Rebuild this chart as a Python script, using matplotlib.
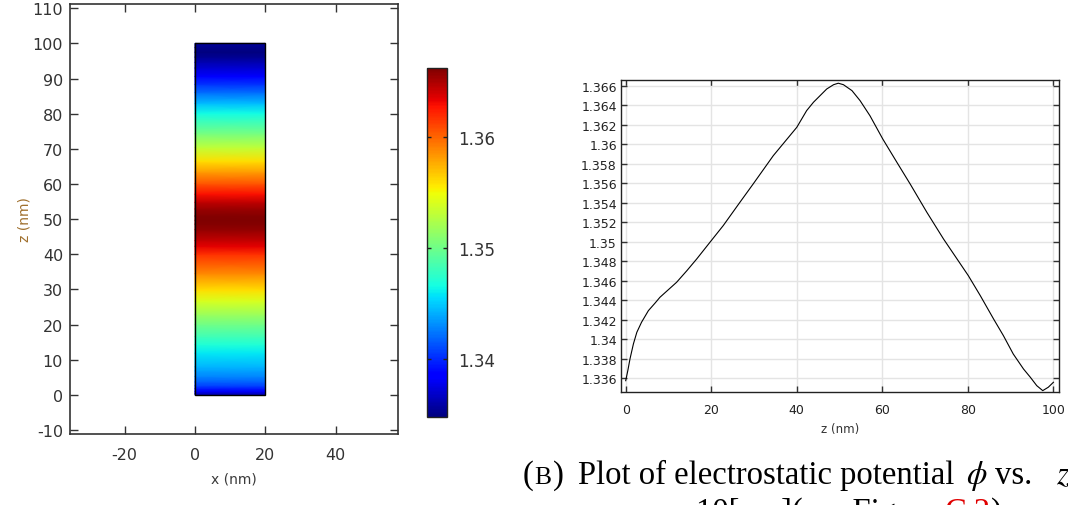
import numpy as np
import matplotlib
matplotlib.use("Agg")
import matplotlib.pyplot as plt
from matplotlib.patches import Rectangle
from matplotlib.ticker import FuncFormatter

# potential profile along z
z_nm = [0, 0.5, 1.0, 1.8, 2.6, 3.7, 5.3, 6.85, 8.0, 11.9, 14.3, 16.6, 20.0,
        22.8, 26.7, 29.8, 34.5, 40.0, 42.3, 43.9, 47.0, 48.6, 49.7, 50.9,
        52.9, 54.8, 57.1, 60.1, 63.4, 66.5, 70.4, 74.3, 80.1, 82.9, 86.0,
        88.3, 90.6, 93.0, 94.6, 96.1, 97.5, 98.8, 100]
phi = [1.33575, 1.33680, 1.33798, 1.33952, 1.34071, 1.34174, 1.34293, 1.34370,
       1.34430, 1.34584, 1.34703, 1.34823, 1.35011, 1.35165, 1.35404, 1.35592,
       1.35882, 1.36173, 1.36344, 1.36430, 1.36566, 1.36610, 1.36625, 1.36610,
       1.36549, 1.36446, 1.36292, 1.36053, 1.35814, 1.35592, 1.35302, 1.35028,
       1.34652, 1.34447, 1.34208, 1.34037, 1.33849, 1.33695, 1.33610, 1.33524,
       1.33473, 1.33508, 1.33559]

domain_x = [0, 20]
left_xticks = [-20, 0, 20, 40]
left_yticks = list(range(-10, 111, 10))
cbar_ticks = [1.34, 1.35, 1.36]
right_xticks = [0, 20, 40, 60, 80, 100]
right_yticks = [1.336, 1.338, 1.34, 1.342, 1.344, 1.346, 1.348, 1.35,
                1.352, 1.354, 1.356, 1.358, 1.36, 1.362, 1.364, 1.366]

plt.rcParams['mathtext.fontset'] = 'stix'
plt.rcParams['axes.unicode_minus'] = False

W, H = 1068, 506
fig = plt.figure(figsize=(W / 100, H / 100), dpi=100)
tick_col = '#333333'


def px_box(x0, y0, x1, y1):
    return [x0 / W, 1 - y1 / H, (x1 - x0) / W, (y1 - y0) / H]


# ---- left: 2D surface plot ----
ax1 = fig.add_axes(px_box(70, 5, 398, 435))
vmin, vmax = min(phi), max(phi)
C = np.column_stack([phi, phi])
mesh = ax1.pcolormesh(domain_x, z_nm, C, cmap='jet', shading='gouraud',
                      vmin=vmin, vmax=vmax)
ax1.add_patch(Rectangle((domain_x[0], z_nm[0]), domain_x[1] - domain_x[0],
                        z_nm[-1] - z_nm[0], fill=False, ec='black', lw=1))
ax1.set_xlim(-35.5, 57.7)
ax1.set_ylim(-11.1, 111.2)
ax1.set_xticks(left_xticks)
ax1.set_yticks(left_yticks)
ax1.tick_params(direction='in', length=6, width=1, top=True, right=True,
                labelsize=11.5, labelcolor=tick_col, color='#333333')
ax1.tick_params(axis='x', pad=9)
ax1.tick_params(axis='y', pad=5)
for s in ax1.spines.values():
    s.set_color('#333333')
    s.set_linewidth(1.2)
ax1.set_xlabel('x (nm)', fontsize=10, color='#3a3a3a', labelpad=7)
ax1.set_ylabel('z (nm)', fontsize=10, color='#a0702e', labelpad=1)

# ---- colorbar ----
cax = fig.add_axes(px_box(427, 69, 447, 418))
cb = fig.colorbar(mesh, cax=cax, ticks=cbar_ticks)
cb.outline.set_edgecolor('#222222')
cb.outline.set_linewidth(1)
cax.tick_params(direction='in', length=3, width=1, left=True, right=True,
                labelsize=12, labelcolor=tick_col, color='#222222', pad=8)
cax.yaxis.set_major_formatter(FuncFormatter(lambda v, p: f"{v:.2f}"))

# ---- right: line plot of phi vs z ----
ax2 = fig.add_axes(px_box(621, 81, 1059, 393))
ax2.plot(z_nm, phi, color='black', lw=0.8)
ax2.set_xlim(-1.1, 101.3)
ax2.set_ylim(1.33459, 1.36658)
ax2.set_xticks(right_xticks)
ax2.set_yticks(right_yticks)
ax2.yaxis.set_major_formatter(
    FuncFormatter(lambda v, p: f"{v:.3f}".rstrip('0').rstrip('.')))
ax2.grid(True, color='#e4e4e4', lw=1)
ax2.set_axisbelow(True)
ax2.tick_params(direction='in', length=4, width=1, top=True, right=True,
                labelsize=9, labelcolor='#222222', color='#333333')
ax2.tick_params(axis='x', pad=8)
ax2.tick_params(axis='y', pad=3)
for s in ax2.spines.values():
    s.set_color('#222222')
    s.set_linewidth(1)
ax2.set_xlabel('z (nm)', fontsize=8.5, color='#333333', labelpad=4)

# ---- caption (partly cut off at the right and bottom, as in the source) ----
fig.canvas.draw()
renderer = fig.canvas.get_renderer()
serif = 'Liberation Serif'
cap = 23.5


def put(x, y_px, text, **kw):
    t = fig.text(x / W, 1 - y_px / H, text, ha='left', va='baseline',
                 family=serif, fontsize=kw.pop('fontsize', cap), **kw)
    return t.get_window_extent(renderer).x1


x = put(523, 484, '(')
x = put(x + 1, 484, 'B', fontsize=cap * 0.78)
put(x + 1, 484, ')')
put(578, 484, 'Plot of electrostatic potential')
put(966, 484, r'$\phi$')
put(995, 484, 'vs.')
put(1056, 484, r'$z$')

x = put(696, 521, '10[nm](see Figure')
x = put(x + 7, 521, 'C.2', color='#e00000')
put(x, 521, ')')

fig.savefig('out.png', dpi=100)
